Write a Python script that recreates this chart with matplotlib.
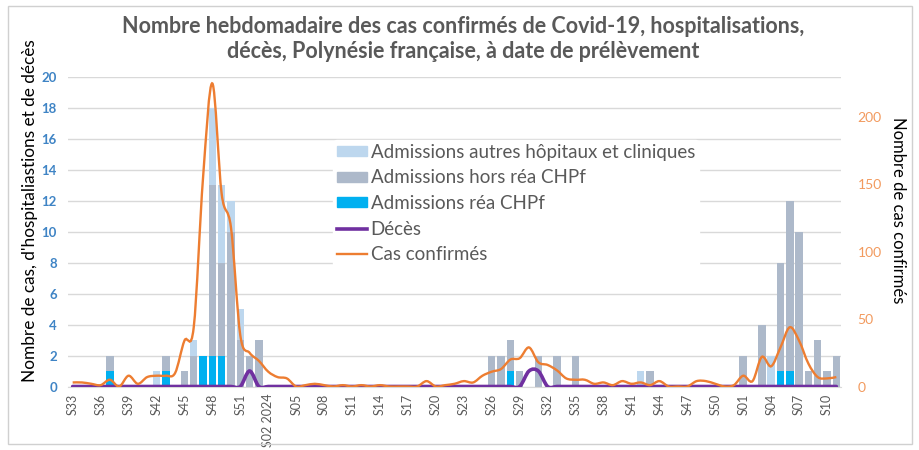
import matplotlib
matplotlib.use("Agg")
import matplotlib.pyplot as plt
from matplotlib.path import Path
from matplotlib.patches import PathPatch, Patch, Rectangle
from matplotlib.lines import Line2D
import numpy as np

plt.rcParams['font.family'] = ['Lato', 'DejaVu Sans']

# semaines S33 2023 -> S11 2025
weeks = ([f"S{w:02d}" for w in range(33, 53)]
         + [f"S{w:02d}" for w in range(1, 53)]
         + [f"S{w:02d}" for w in range(1, 12)])
weeks[20 + 1] = "S02 2024"

rea = [0, 0, 0, 0, 1, 0, 0, 0, 0, 0, 1, 0, 0, 0, 2, 2, 2, 0, 0, 0,
       0, 0, 0, 0, 0, 0, 0, 0, 0, 0, 0, 0, 0, 0, 0, 0, 0, 0, 0, 0,
       0, 0, 0, 0, 0, 0, 0, 1, 0, 0, 0, 0, 0, 0, 0, 0, 0, 0, 0, 0,
       0, 0, 0, 0, 0, 0, 0, 0, 0, 0, 0, 0,
       0, 0, 0, 0, 1, 1, 0, 0, 0, 0, 0]
hors_rea = [0, 0, 0, 0, 1, 0, 0, 0, 0, 0, 1, 0, 1, 2, 0, 11, 6, 10, 3, 2,
            3, 0, 0, 0, 0, 0, 0, 0, 0, 0, 0, 0, 0, 0, 0, 0, 0, 0, 0, 0,
            0, 0, 0, 0, 0, 2, 2, 2, 1, 0, 2, 0, 2, 0, 2, 0, 0, 0, 0, 0,
            0, 0, 1, 0, 0, 0, 0, 0, 0, 0, 0, 0,
            2, 0, 4, 0, 7, 11, 10, 1, 3, 1, 2]
autres = [0, 0, 0, 0, 0, 0, 0, 0, 0, 1, 0, 0, 0, 1, 0, 5, 5, 2, 2, 0,
          0, 0, 0, 0, 0, 0, 0, 0, 0, 0, 0, 0, 0, 0, 0, 0, 0, 0, 0, 0,
          0, 0, 0, 0, 0, 0, 0, 0, 0, 0, 0, 0, 0, 0, 0, 0, 0, 0, 0, 0,
          0, 1, 0, 0, 0, 0, 0, 0, 0, 0, 0, 0,
          0, 0, 0, 2, 0, 0, 0, 0, 0, 0, 0]
deces = [0, 0, 0, 0, 0, 0, 0, 0, 0, 0, 0, 0, 0, 0, 0, 0, 0, 0, 0, 1,
         0, 0, 0, 0, 0, 0, 0, 0, 0, 0, 0, 0, 0, 0, 0, 0, 0, 0, 0, 0,
         0, 0, 0, 0, 0, 0, 0, 0, 0, 1, 1, 0, 0, 0, 0, 0, 0, 0, 0, 0,
         0, 0, 0, 0, 0, 0, 0, 0, 0, 0, 0, 0,
         0, 0, 0, 0, 0, 0, 0, 0, 0, 0, 0]
cas = [3, 3, 2, 1, 5, 0, 8, 2, 7, 8, 8, 10, 34, 44, 155, 225, 143, 118, 38, 25,
       19, 11, 7, 6, 0, 1, 2, 1, 0, 1, 0, 1, 0, 1, 0, 0, 0, 0, 4, 0,
       1, 2, 4, 3, 8, 11, 13, 20, 21, 29, 18, 16, 12, 6, 5, 5, 2, 3, 1, 4,
       2, 3, 1, 4, 0, 0, 0, 4, 4, 2, 0, 1,
       8, 4, 22, 15, 29, 44, 34, 17, 7, 6, 7]

c_autres = '#BDD7EE'
c_hors = '#ADB9CA'
c_rea = '#00B0F0'
c_deces = '#7030A0'
c_cas = '#ED7D31'


def smooth_path(xs, ys):
    # courbe lissée type Excel (Catmull-Rom en Bézier)
    pts = np.column_stack([xs, ys]).astype(float)
    verts = [pts[0]]
    codes = [Path.MOVETO]
    n = len(pts)
    for i in range(n - 1):
        p0 = pts[max(i - 1, 0)]
        p1 = pts[i]
        p2 = pts[i + 1]
        p3 = pts[min(i + 2, n - 1)]
        verts += [p1 + (p2 - p0) / 6, p2 - (p3 - p1) / 6, p2]
        codes += [Path.CURVE4] * 3
    return Path(verts, codes)


x = np.arange(len(weeks))
fig = plt.figure(figsize=(9.2, 4.5), dpi=100)
fig.patches.append(Rectangle((8 / 920, 6 / 450), 904 / 920, 438 / 450,
                             transform=fig.transFigure, fill=False,
                             edgecolor='#D0D0D0', lw=1))
ax = fig.add_axes([68 / 920, 1 - 386.5 / 450, 773 / 920, 309.8 / 450])
ax2 = ax.twinx()

w = 0.8
ax.bar(x, rea, w, color=c_rea, zorder=2)
ax.bar(x, hors_rea, w, bottom=rea, color=c_hors, zorder=2)
ax.bar(x, autres, w, bottom=np.add(rea, hors_rea), color=c_autres, zorder=2)
ax.add_patch(PathPatch(smooth_path(x, deces), fill=False, edgecolor=c_deces,
                       lw=2.6, zorder=3, capstyle='round'))
ax2.add_patch(PathPatch(smooth_path(x, cas), fill=False, edgecolor=c_cas,
                        lw=1.7, zorder=4))

ax.set_xlim(-0.5, len(weeks) - 0.5)
ax.set_ylim(0, 20)
ax2.set_ylim(0, 230)
ax.set_yticks(range(0, 21, 2))
ax2.set_yticks(range(0, 201, 50))
ax.grid(axis='y', color='#D9D9D9', lw=1, zorder=0)
ax.set_axisbelow(True)
for a in (ax, ax2):
    for s in a.spines.values():
        s.set_visible(False)
ax.spines['bottom'].set_visible(True)
ax.spines['bottom'].set_color('#D9D9D9')

ax.set_xticks(x[::3])
ax.set_xticklabels(weeks[::3], rotation=90, fontsize=9, color='#595959')
ax.tick_params(axis='x', length=0, pad=5)
ax.tick_params(axis='y', length=0, pad=8, labelsize=9.5, labelcolor='#3F84C5')
for t in ax.get_yticklabels():
    t.set_fontweight('bold')
ax2.tick_params(axis='y', length=0, pad=12, labelsize=10, labelcolor='#F29A5E')

fig.text(30 / 920, 1 - 211 / 450, "Nombre de cas, d'hospitaliastions et de décès",
         rotation=90, ha='center', va='center', fontsize=12.4, color='black')
fig.text(898 / 920, 1 - 210 / 450, "Nombre de cas confirmés",
         rotation=270, ha='center', va='center', fontsize=12, color='black')
fig.text(463 / 920, 1 - 39 / 450,
         "Nombre hebdomadaire des cas confirmés de Covid-19, hospitalisations,\n"
         "décès, Polynésie française, à date de prélèvement",
         ha='center', va='center', fontsize=15.5, fontweight='bold',
         color='#595959', linespacing=1.2)

handles = [Patch(color=c_autres), Patch(color=c_hors), Patch(color=c_rea),
           Line2D([], [], color=c_deces, lw=2.6), Line2D([], [], color=c_cas, lw=1.7)]
labels = ["Admissions autres hôpitaux et cliniques", "Admissions hors réa CHPf",
          "Admissions réa CHPf", "Décès", "Cas confirmés"]
leg = ax2.legend(handles, labels, loc='upper left',
                 bbox_to_anchor=((333 - 68) / 773, (386.5 - 140) / 309.8),
                 frameon=True, facecolor='white', edgecolor='white', framealpha=1,
                 fontsize=13.5, labelcolor='#595959', handlelength=1.6,
                 handleheight=0.45, handletextpad=0.2, labelspacing=0.46,
                 borderpad=0.2, borderaxespad=0)

fig.savefig("out.png", dpi=100)
